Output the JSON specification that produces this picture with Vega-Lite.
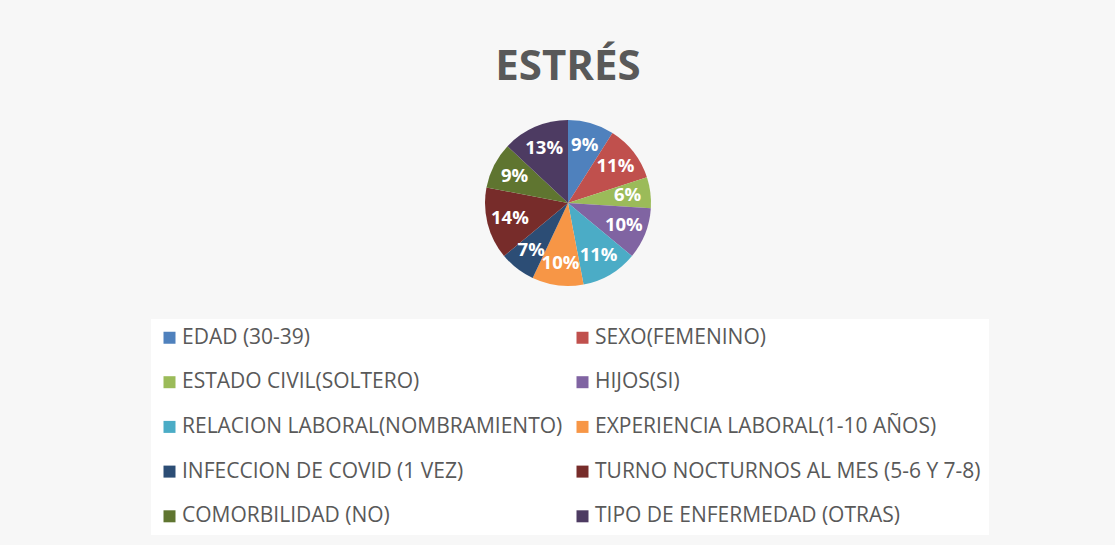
{
  "$schema": "https://vega.github.io/schema/vega-lite/v6.json",
  "autosize": {"type": "none"},
  "width": 200,
  "height": 200,
  "padding": {"left": 468, "top": 103, "right": 447, "bottom": 242},
  "background": "#f7f7f7",
  "view": {"stroke": null},
  "title": {
    "text": "ESTRÉS",
    "font": "Open Sans",
    "fontSize": 42,
    "fontWeight": "bold",
    "color": "#595959",
    "anchor": "middle",
    "baseline": "alphabetic",
    "offset": -19
  },
  "data": {
    "values": [
      {"orden": 1, "categoria": "EDAD (30-39)", "pct": 0.09},
      {"orden": 2, "categoria": "SEXO(FEMENINO)", "pct": 0.11},
      {"orden": 3, "categoria": "ESTADO CIVIL(SOLTERO)", "pct": 0.06},
      {"orden": 4, "categoria": "HIJOS(SI)", "pct": 0.10},
      {"orden": 5, "categoria": "RELACION LABORAL(NOMBRAMIENTO)", "pct": 0.11},
      {"orden": 6, "categoria": "EXPERIENCIA LABORAL(1-10 AÑOS)", "pct": 0.10},
      {"orden": 7, "categoria": "INFECCION DE COVID (1 VEZ)", "pct": 0.07},
      {"orden": 8, "categoria": "TURNO NOCTURNOS AL MES (5-6 Y 7-8)", "pct": 0.14},
      {"orden": 9, "categoria": "COMORBILIDAD (NO)", "pct": 0.09},
      {"orden": 10, "categoria": "TIPO DE ENFERMEDAD (OTRAS)", "pct": 0.13}
    ]
  },
  "encoding": {
    "theta": {"field": "pct", "type": "quantitative", "stack": true},
    "order": {"field": "orden", "type": "quantitative"}
  },
  "layer": [
    {
      "mark": {"type": "arc", "outerRadius": 83},
      "encoding": {
        "color": {
          "field": "categoria",
          "type": "nominal",
          "scale": {
            "domain": ["EDAD (30-39)", "SEXO(FEMENINO)", "ESTADO CIVIL(SOLTERO)", "HIJOS(SI)", "RELACION LABORAL(NOMBRAMIENTO)", "EXPERIENCIA LABORAL(1-10 AÑOS)", "INFECCION DE COVID (1 VEZ)", "TURNO NOCTURNOS AL MES (5-6 Y 7-8)", "COMORBILIDAD (NO)", "TIPO DE ENFERMEDAD (OTRAS)"],
            "range": ["#4F81BD", "#C0504D", "#9BBB59", "#8064A2", "#4BACC6", "#F79646", "#2C4D75", "#772C2A", "#5F7530", "#4D3B62"]
          },
          "legend": {
            "orient": "none",
            "direction": "horizontal",
            "legendX": -317,
            "legendY": 216,
            "columns": 2,
            "title": null,
            "symbolType": "square",
            "symbolSize": 144,
            "symbolStrokeWidth": 0,
            "labelFont": "Open Sans",
            "labelFontSize": 21,
            "labelColor": "#595959",
            "labelOffset": 2,
            "labelLimit": 600,
            "rowPadding": 22.7,
            "columnPadding": 9,
            "fillColor": "white",
            "padding": 8
          }
        }
      }
    },
    {
      "mark": {"type": "text", "radius": 60, "font": "Open Sans", "fontSize": 18.5, "fontWeight": "bold", "fill": "white"},
      "encoding": {
        "text": {"field": "pct", "type": "quantitative", "format": ".0%"}
      }
    }
  ]
}
